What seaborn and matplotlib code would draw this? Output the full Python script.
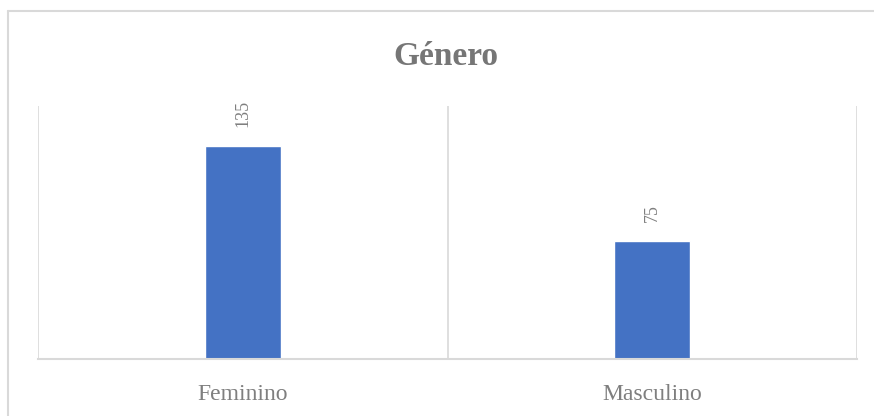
import matplotlib
matplotlib.use("Agg")
import matplotlib.pyplot as plt
import seaborn as sns
import pandas as pd
from matplotlib.lines import Line2D

categories = ["Feminino", "Masculino"]
values = [135, 75]
title = "Género"

sns.set_theme(style="white")
plt.rcParams['font.family'] = ['Liberation Serif', 'DejaVu Serif']

W, H = 874, 416
fig = plt.figure(figsize=(W / 100, H / 100), dpi=100)
ax = fig.add_axes([38 / W, (H - 359) / H, (857 - 38) / W, (359 - 106) / H])

df = pd.DataFrame({"cat": categories, "val": values})
sns.barplot(data=df, x="cat", y="val", ax=ax, color="#4472C4", width=0.186,
            saturation=1, zorder=3)

ax.set_xlim(-0.5, 1.5)
ax.set_ylim(0, 160.5)
ax.set_xlabel("")
ax.set_ylabel("")
ax.set_yticks([])
for s in ["top", "right", "left"]:
    ax.spines[s].set_visible(False)
ax.spines["bottom"].set_color("#d9d9d9")
ax.spines["bottom"].set_linewidth(1.5)
ax.spines["bottom"].set_zorder(4)

for xv in [-0.5, 0.5, 1.5]:
    ax.axvline(xv, color="#d9d9d9", lw=1.2, zorder=1)

ax.tick_params(axis="x", length=0, pad=18, labelsize=17, labelcolor="#7f7f7f")

for i, v in enumerate(values):
    ax.annotate(str(v), (i, v), xytext=(0, 13.5), textcoords="offset points",
                rotation=90, ha="center", va="bottom", fontsize=13,
                color="#7f7f7f")

fig.text(445.5 / W, (H - 65) / H, title, ha="center", va="baseline",
         fontsize=24, fontweight="bold", color="#767676")

# chart border (left and top visible, rest cropped)
fig.add_artist(Line2D([8 / W, 8 / W], [0, (H - 10.5) / H], transform=fig.transFigure,
                      color="#d9d9d9", lw=1.5))
fig.add_artist(Line2D([8 / W, 1], [(H - 10.5) / H, (H - 10.5) / H], transform=fig.transFigure,
                      color="#d9d9d9", lw=1.5))

fig.savefig("out.png", dpi=100, facecolor="white")
